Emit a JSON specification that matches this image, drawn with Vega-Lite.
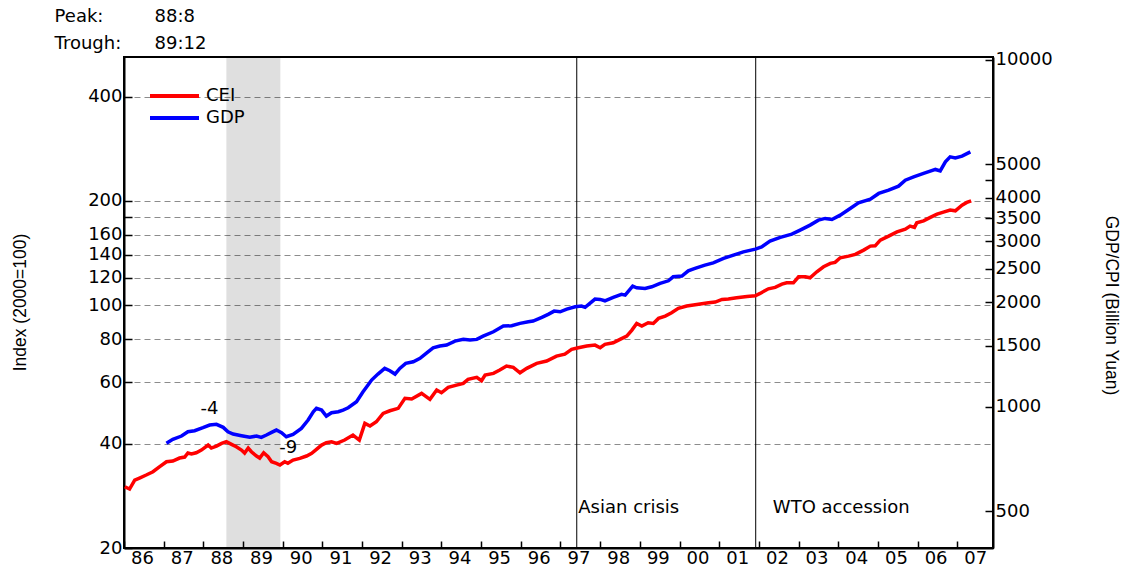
{
"$schema": "https://vega.github.io/schema/vega-lite/v6.json",
"width": 869, "height": 491,
"autosize": {"type": "none"},
"padding": {"left": 124, "top": 57, "right": 135, "bottom": 33},
"background": "white",
"config": {"view": {"stroke": "black", "strokeWidth": 2}, "font": "DejaVu Sans",
 "axis": {"labelFont": "DejaVu Sans", "labelFontSize": 18, "labelColor": "black", "domainColor": "black", "domainWidth": 2, "tickColor": "black", "tickWidth": 1.5, "titleFont": "Liberation Sans", "titleFontSize": 17.5, "titleFontWeight": "normal", "titleColor": "black", "labelOverlap": false, "labelFlush": false}},
"datasets": {
 "cei": [
{"t":1986.02,"v":30.03},{"t":1986.14,"v":29.58},{"t":1986.27,"v":31.40},{"t":1986.39,"v":31.82},{"t":1986.56,"v":32.46},{"t":1986.73,"v":33.18},{"t":1986.90,"v":34.30},{"t":1987.07,"v":35.45},{"t":1987.23,"v":35.62},{"t":1987.40,"v":36.33},{"t":1987.53,"v":36.57},{"t":1987.61,"v":37.56},{"t":1987.70,"v":37.31},{"t":1987.82,"v":37.63},{"t":1987.95,"v":38.31},{"t":1988.12,"v":39.60},{"t":1988.20,"v":38.82},{"t":1988.33,"v":39.34},{"t":1988.46,"v":40.05},{"t":1988.58,"v":40.48},{"t":1988.71,"v":39.79},{"t":1988.83,"v":39.16},{"t":1988.96,"v":38.31},{"t":1989.04,"v":37.56},{"t":1989.13,"v":38.82},{"t":1989.21,"v":37.88},{"t":1989.34,"v":36.82},{"t":1989.42,"v":36.33},{"t":1989.52,"v":37.63},{"t":1989.63,"v":36.65},{"t":1989.72,"v":35.45},{"t":1989.84,"v":35.08},{"t":1989.93,"v":34.68},{"t":1990.05,"v":35.45},{"t":1990.13,"v":35.08},{"t":1990.26,"v":35.85},{"t":1990.43,"v":36.26},{"t":1990.60,"v":36.82},{"t":1990.73,"v":37.48},{"t":1990.85,"v":38.49},{"t":1990.98,"v":39.60},{"t":1991.10,"v":40.21},{"t":1991.23,"v":40.48},{"t":1991.36,"v":40.05},{"t":1991.56,"v":40.94},{"t":1991.77,"v":42.32},{"t":1991.93,"v":40.94},{"t":1992.07,"v":45.73},{"t":1992.20,"v":44.92},{"t":1992.36,"v":46.22},{"t":1992.53,"v":48.87},{"t":1992.70,"v":49.72},{"t":1992.91,"v":50.52},{"t":1993.08,"v":53.99},{"t":1993.25,"v":53.73},{"t":1993.50,"v":55.80},{"t":1993.71,"v":53.63},{"t":1993.88,"v":57.04},{"t":1994.00,"v":56.03},{"t":1994.17,"v":58.07},{"t":1994.38,"v":58.96},{"t":1994.55,"v":59.63},{"t":1994.67,"v":61.24},{"t":1994.89,"v":62.06},{"t":1995.01,"v":60.67},{"t":1995.10,"v":63.01},{"t":1995.31,"v":63.72},{"t":1995.47,"v":65.13},{"t":1995.64,"v":66.88},{"t":1995.81,"v":66.31},{"t":1995.98,"v":63.98},{"t":1996.15,"v":65.87},{"t":1996.40,"v":68.09},{"t":1996.65,"v":69.14},{"t":1996.90,"v":71.47},{"t":1997.11,"v":72.42},{"t":1997.28,"v":74.72},{"t":1997.45,"v":75.51},{"t":1997.66,"v":76.37},{"t":1997.87,"v":76.88},{"t":1998.00,"v":75.51},{"t":1998.12,"v":77.23},{"t":1998.33,"v":78.06},{"t":1998.50,"v":79.84},{"t":1998.67,"v":81.61},{"t":1998.80,"v":84.92},{"t":1998.92,"v":88.78},{"t":1999.05,"v":87.20},{"t":1999.21,"v":89.13},{"t":1999.34,"v":88.78},{"t":1999.47,"v":91.78},{"t":1999.64,"v":93.19},{"t":1999.80,"v":95.25},{"t":1999.97,"v":98.07},{"t":2000.18,"v":99.58},{"t":2000.35,"v":100.24},{"t":2000.52,"v":100.90},{"t":2000.73,"v":101.78},{"t":2000.90,"v":102.25},{"t":2001.07,"v":104.10},{"t":2001.23,"v":104.31},{"t":2001.44,"v":105.21},{"t":2001.70,"v":106.19},{"t":2001.91,"v":106.62},{"t":2002.03,"v":108.32},{"t":2002.24,"v":111.69},{"t":2002.41,"v":112.72},{"t":2002.58,"v":115.22},{"t":2002.70,"v":116.23},{"t":2002.87,"v":116.23},{"t":2003.00,"v":120.93},{"t":2003.17,"v":120.93},{"t":2003.29,"v":120.14},{"t":2003.46,"v":125.02},{"t":2003.63,"v":129.24},{"t":2003.80,"v":132.18},{"t":2003.92,"v":133.06},{"t":2004.05,"v":137.18},{"t":2004.26,"v":138.73},{"t":2004.43,"v":140.31},{"t":2004.64,"v":144.36},{"t":2004.81,"v":148.25},{"t":2004.93,"v":148.55},{"t":2005.06,"v":154.27},{"t":2005.27,"v":158.42},{"t":2005.48,"v":163.00},{"t":2005.69,"v":165.94},{"t":2005.81,"v":169.28},{"t":2005.92,"v":167.83},{"t":2005.98,"v":173.02},{"t":2006.15,"v":175.34},{"t":2006.32,"v":179.33},{"t":2006.49,"v":183.30},{"t":2006.65,"v":185.75},{"t":2006.82,"v":188.24},{"t":2006.95,"v":187.36},{"t":2007.12,"v":194.58},{"t":2007.24,"v":198.09},{"t":2007.35,"v":200.22}
 ],
 "gdp": [
{"t":1987.07,"v":785.1},{"t":1987.23,"v":806.2},{"t":1987.45,"v":824.0},{"t":1987.61,"v":847.9},{"t":1987.78,"v":853.5},{"t":1987.99,"v":870.7},{"t":1988.16,"v":886.4},{"t":1988.33,"v":890.5},{"t":1988.50,"v":872.9},{"t":1988.62,"v":847.9},{"t":1988.75,"v":835.0},{"t":1988.96,"v":825.7},{"t":1989.17,"v":817.0},{"t":1989.34,"v":824.0},{"t":1989.46,"v":817.0},{"t":1989.59,"v":829.5},{"t":1989.72,"v":844.5},{"t":1989.84,"v":857.4},{"t":1989.97,"v":842.3},{"t":1990.09,"v":820.2},{"t":1990.26,"v":833.4},{"t":1990.47,"v":867.2},{"t":1990.64,"v":916.3},{"t":1990.77,"v":968.1},{"t":1990.85,"v":990.2},{"t":1990.98,"v":979.1},{"t":1991.10,"v":940.9},{"t":1991.23,"v":961.7},{"t":1991.40,"v":968.1},{"t":1991.52,"v":979.1},{"t":1991.65,"v":994.1},{"t":1991.86,"v":1034.5},{"t":1992.02,"v":1103.2},{"t":1992.15,"v":1155.7},{"t":1992.24,"v":1194.6},{"t":1992.40,"v":1243.1},{"t":1992.57,"v":1291.1},{"t":1992.70,"v":1270.6},{"t":1992.83,"v":1243.1},{"t":1992.95,"v":1291.1},{"t":1993.10,"v":1334.6},{"t":1993.29,"v":1348.8},{"t":1993.46,"v":1379.6},{"t":1993.63,"v":1431.7},{"t":1993.79,"v":1480.1},{"t":1993.96,"v":1496.9},{"t":1994.13,"v":1506.8},{"t":1994.34,"v":1547.3},{"t":1994.55,"v":1564.9},{"t":1994.72,"v":1557.7},{"t":1994.89,"v":1564.9},{"t":1995.05,"v":1599.5},{"t":1995.31,"v":1645.8},{"t":1995.56,"v":1709.2},{"t":1995.77,"v":1712.6},{"t":1995.98,"v":1740.0},{"t":1996.19,"v":1758.8},{"t":1996.31,"v":1766.9},{"t":1996.53,"v":1810.8},{"t":1996.69,"v":1847.1},{"t":1996.84,"v":1888.0},{"t":1996.99,"v":1879.4},{"t":1997.16,"v":1913.3},{"t":1997.37,"v":1942.6},{"t":1997.53,"v":1951.7},{"t":1997.62,"v":1935.1},{"t":1997.74,"v":1987.0},{"t":1997.87,"v":2044.4},{"t":1998.00,"v":2040.3},{"t":1998.12,"v":2021.5},{"t":1998.33,"v":2067.5},{"t":1998.54,"v":2109.1},{"t":1998.63,"v":2099.2},{"t":1998.82,"v":2228.5},{"t":1998.92,"v":2203.6},{"t":1999.13,"v":2194.8},{"t":1999.30,"v":2218.3},{"t":1999.51,"v":2268.8},{"t":1999.72,"v":2308.4},{"t":1999.84,"v":2370.3},{"t":2000.06,"v":2381.6},{"t":2000.22,"v":2466.6},{"t":2000.39,"v":2506.2},{"t":2000.64,"v":2561.6},{"t":2000.85,"v":2600.9},{"t":2001.11,"v":2678.1},{"t":2001.36,"v":2737.5},{"t":2001.61,"v":2797.8},{"t":2001.91,"v":2848.6},{"t":2002.07,"v":2892.1},{"t":2002.28,"v":3003.5},{"t":2002.54,"v":3078.3},{"t":2002.83,"v":3146.4},{"t":2003.04,"v":3230.9},{"t":2003.29,"v":3340.1},{"t":2003.50,"v":3452.6},{"t":2003.67,"v":3491.9},{"t":2003.84,"v":3468.6},{"t":2004.05,"v":3569.1},{"t":2004.30,"v":3731.3},{"t":2004.51,"v":3872.4},{"t":2004.81,"v":3968.5},{"t":2005.02,"v":4121.4},{"t":2005.27,"v":4212.6},{"t":2005.52,"v":4325.8},{"t":2005.69,"v":4501.4},{"t":2005.90,"v":4601.1},{"t":2006.15,"v":4706.3},{"t":2006.45,"v":4832.7},{"t":2006.57,"v":4787.9},{"t":2006.70,"v":5082.5},{"t":2006.82,"v":5254.1},{"t":2006.95,"v":5219.5},{"t":2007.12,"v":5278.3},{"t":2007.33,"v":5431.4}
 ]
},
"layer": [
 {"data": {"values": [{"start": 1988.58, "end": 1989.94}]},
  "mark": {"type": "rect", "color": "black", "opacity": 0.125},
  "encoding": {"x": {"field": "start", "type": "quantitative", "scale": {"domain": [1986, 2007.9], "nice": false, "zero": false},
     "axis": {"values": [1986,1987,1988,1989,1990,1991,1992,1993,1994,1995,1996,1997,1998,1999,2000,2001,2002,2003,2004,2005,2006,2007], "format": "d", "labelExpr": "slice(toString(datum.value), 2)", "labelOffset": 18, "tickSize": -7, "labelPadding": 8, "grid": false, "title": null}},
   "x2": {"field": "end"}}},
 {"data": {"values": [{"t": 1997.41, "event": "Asian crisis"}, {"t": 2001.92, "event": "WTO accession"}]},
  "mark": {"type": "rule", "color": "black", "strokeWidth": 1},
  "encoding": {"x": {"field": "t", "type": "quantitative"}}},
 {"data": {"name": "cei"},
  "mark": {"type": "line", "strokeWidth": 3.5, "interpolate": "linear"},
  "encoding": {"x": {"field": "t", "type": "quantitative"},
   "y": {"field": "v", "type": "quantitative", "scale": {"type": "log", "domain": [20, 520], "nice": false},
     "axis": {"orient": "left", "values": [20,40,60,80,100,120,140,160,180,200,400], "format": "d", "labelExpr": "datum.value == 180 ? '' : datum.label", "tickSize": -8, "labelPadding": 10, "grid": true, "gridDash": [6, 4], "gridColor": "#8c8c8c", "gridWidth": 1, "title": "Index (2000=100)", "titleAngle": -90, "titleX": -104, "titleY": 245, "titleAlign": "center", "titleBaseline": "middle"}},
   "color": {"datum": "CEI", "type": "nominal", "scale": {"domain": ["CEI", "GDP"], "range": ["#ff0000", "#0000ff"]},
     "legend": {"orient": "none", "legendX": 24, "legendY": 30, "title": null, "symbolType": "M-1,0H6", "symbolSize": 196, "symbolStrokeWidth": 4, "labelFontSize": 18, "labelFont": "DejaVu Sans", "labelColor": "black", "labelOffset": 40, "rowPadding": 4, "padding": 0}}}},
 {"data": {"name": "gdp"},
  "mark": {"type": "line", "strokeWidth": 3.5},
  "encoding": {"x": {"field": "t", "type": "quantitative"},
   "y": {"field": "v", "type": "quantitative", "scale": {"type": "log", "domain": [392, 10192], "nice": false},
     "axis": {"orient": "right", "values": [500,1000,1500,2000,2500,3000,3500,4000,4500,5000,10000], "format": "d", "labelExpr": "datum.value == 4500 ? '' : datum.label", "tickSize": -8, "labelPadding": 10, "grid": false, "title": "GDP/CPI (Billion Yuan)", "titleAngle": 90, "titleX": 117, "titleY": 248, "titleAlign": "center", "titleBaseline": "middle"}},
   "color": {"datum": "GDP", "type": "nominal"}}},
 {"data": {"values": [
   {"t": 1987.93, "v": 50.3, "label": "-4"},
   {"t": 1989.91, "v": 38.95, "label": "-9"},
   {"t": 1997.449, "v": 26.08, "label": "Asian crisis"},
   {"t": 2002.352, "v": 26.08, "label": "WTO accession"},
   {"t": 1984.251, "v": 677, "label": "Peak:"},
   {"t": 1986.77, "v": 677, "label": "88:8"},
   {"t": 1984.251, "v": 568, "label": "Trough:"},
   {"t": 1986.77, "v": 568, "label": "89:12"}]},
  "mark": {"type": "text", "align": "left", "baseline": "middle", "font": "DejaVu Sans", "fontSize": 18, "color": "black"},
  "encoding": {"x": {"field": "t", "type": "quantitative"},
   "y": {"field": "v", "type": "quantitative", "scale": {"type": "log", "domain": [20, 520], "nice": false}, "axis": null},
   "text": {"field": "label"}}}
],
"resolve": {"scale": {"y": "independent"}}
}
